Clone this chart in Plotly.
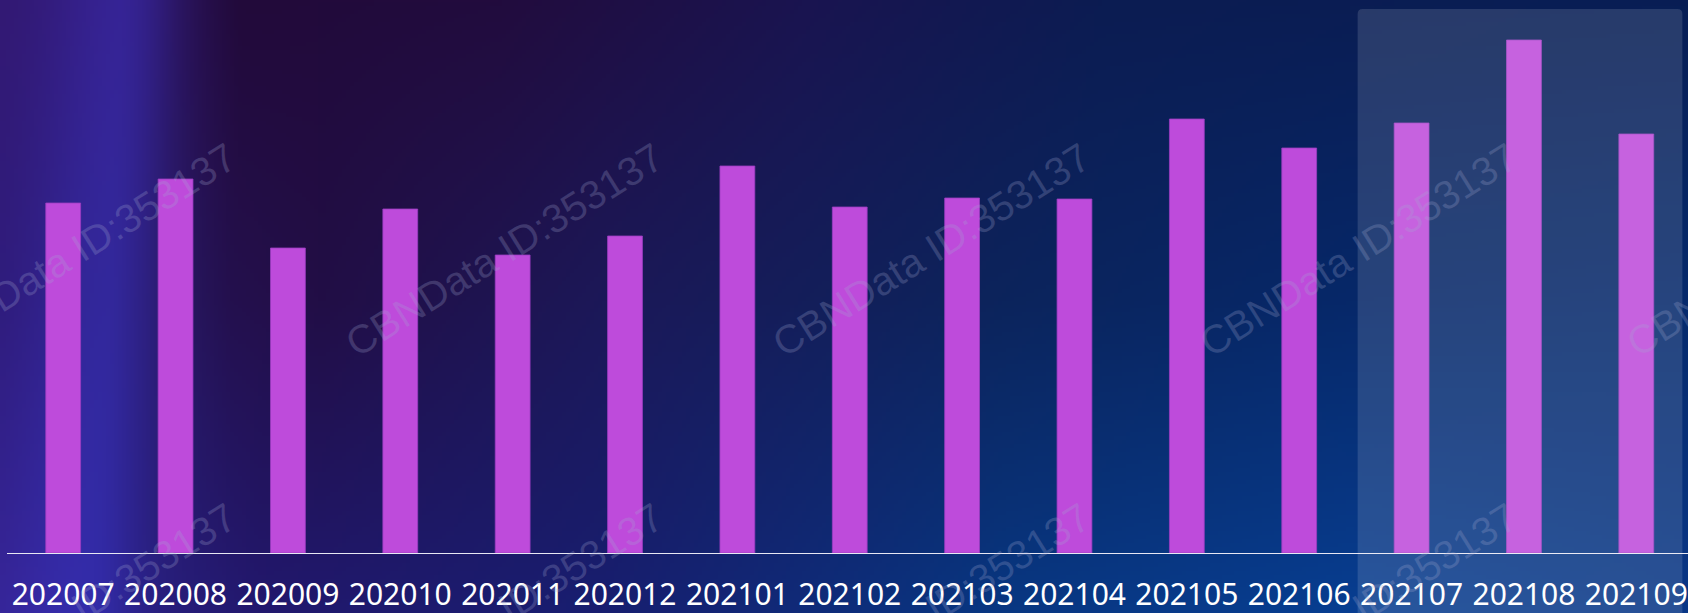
import base64, struct, zlib
import numpy as np
import plotly.graph_objects as go

# ---------------- data ----------------
months = ["202007", "202008", "202009", "202010", "202011", "202012", "202101",
          "202102", "202103", "202104", "202105", "202106", "202107", "202108", "202109"]
values = [350, 374, 305, 344, 298, 317, 387, 346, 355, 354, 434, 405, 430, 513, 419]
highlight = ["202107", "202108", "202109"]
watermark = "CBNData ID:353137"

W, H = 1688, 613
ML, MB = 7, 60
PW, PH = W - ML, H - MB


# ---------------- background image ----------------
def row(xstops, cols, xs):
    cols = np.array(cols, dtype=float)
    return np.stack([np.interp(xs, xstops, cols[:, c]) for c in range(3)], axis=-1)


gw, gh = 422, 154
xs = np.linspace(0, W, gw)
ys = np.linspace(0, H, gh)
top = row([0, 120, 175, 240, 500, 800, 1100, 1688],
          [(50, 24, 112), (46, 22, 105), (40, 16, 80), (34, 10, 58), (34, 12, 62),
           (26, 20, 80), (12, 28, 82), (8, 30, 85)], xs)
mid = row([0, 110, 170, 230, 320, 600, 1000, 1350, 1688],
          [(46, 26, 118), (44, 28, 118), (40, 24, 98), (36, 16, 78), (34, 14, 70),
           (28, 24, 88), (12, 36, 92), (6, 40, 105), (6, 42, 108)], xs)
bot = row([0, 100, 160, 260, 600, 1000, 1350, 1688],
          [(52, 34, 142), (46, 34, 140), (40, 30, 124), (34, 24, 110), (24, 30, 112),
           (8, 55, 130), (8, 62, 145), (10, 55, 135)], xs)
img = np.zeros((gh, gw, 3))
for i, y in enumerate(ys):
    if y <= 300:
        t = y / 300
        base = top * (1 - t) + mid * t
    else:
        t = (y - 300) / 313
        base = mid * (1 - t) + bot * t
    f = y / H
    xc = 130 - 50 * f
    amp = np.array([8, 14, 45]) * (1 - f) + np.array([5, 10, 30]) * f
    d = xs - xc
    sig = np.where(d < 0, 60.0, 38.0)
    g = np.exp(-(d ** 2) / (2 * sig ** 2))
    img[i] = base + g[:, None] * amp[None, :]
img = np.clip(img, 0, 255).astype(np.uint8)


def png_uri(a):
    h, w, _ = a.shape
    raw = b"".join(b"\x00" + a[r].tobytes() for r in range(h))

    def chunk(tag, data):
        c = tag + data
        return struct.pack(">I", len(data)) + c + struct.pack(">I", zlib.crc32(c) & 0xFFFFFFFF)

    png = (b"\x89PNG\r\n\x1a\n"
           + chunk(b"IHDR", struct.pack(">IIBBBBB", w, h, 8, 2, 0, 0, 0))
           + chunk(b"IDAT", zlib.compress(raw, 9))
           + chunk(b"IEND", b""))
    return "data:image/png;base64," + base64.b64encode(png).decode()


# ---------------- figure ----------------
fig = go.Figure()
fig.add_trace(go.Bar(
    x=months, y=values, width=0.31,
    marker=dict(color="#be4bdb", line=dict(color="#9b3cc0", width=0.8)),
    hoverinfo="x+y",
))

fig.add_layout_image(dict(
    source=png_uri(img), xref="paper", yref="paper",
    x=-ML / PW, y=1, sizex=W / PW, sizey=H / PH,
    xanchor="left", yanchor="top", sizing="stretch", layer="below",
))


def px_x(px):
    return (px - ML) / PW


def px_y(py):
    return (PH - py) / PH


# highlight box (rounded top corners)
i0 = months.index(highlight[0])
x0 = i0 - 0.5 + 0.02
x1 = months.index(highlight[-1]) + 0.41
rx = 5 / (PW / 14.96)
yt = px_y(9)
ry = 5 / PH
yb = px_y(H + 5)
fig.add_shape(
    type="path", xref="x", yref="paper", layer="above",
    path=(f"M {x0},{yb} L {x0},{yt - ry} Q {x0},{yt} {x0 + rx},{yt} "
          f"L {x1 - rx},{yt} Q {x1},{yt} {x1},{yt - ry} L {x1},{yb} Z"),
    fillcolor="rgba(255,255,255,0.13)", line=dict(width=0),
)

# watermarks
for cy in (250, 610):
    for cx in (77, 504, 931, 1358, 1785):
        fig.add_annotation(
            text=watermark, xref="paper", yref="paper",
            x=px_x(cx), y=px_y(cy), xanchor="center", yanchor="middle",
            showarrow=False, textangle=-32,
            font=dict(family="Liberation Sans, Arial, sans-serif", size=40,
                      color="rgba(165,170,210,0.25)"),
        )

fig.update_layout(
    width=W, height=H,
    margin=dict(l=ML, r=0, t=0, b=MB, pad=0),
    paper_bgcolor="#1a1650", plot_bgcolor="rgba(0,0,0,0)",
    showlegend=False, bargap=0.69,
    xaxis=dict(
        type="category", range=[-0.5, 14.46],
        showline=True, linecolor="#e8e8f4", linewidth=1.2,
        showgrid=False, zeroline=False, ticks="",
        tickfont=dict(family="Noto Sans, Open Sans, sans-serif", size=30, color="#ffffff"),
        ticklabelstandoff=15,
    ),
    yaxis=dict(range=[0, PH], visible=False, showgrid=False, zeroline=False),
)

fig.write_html("out.html")
